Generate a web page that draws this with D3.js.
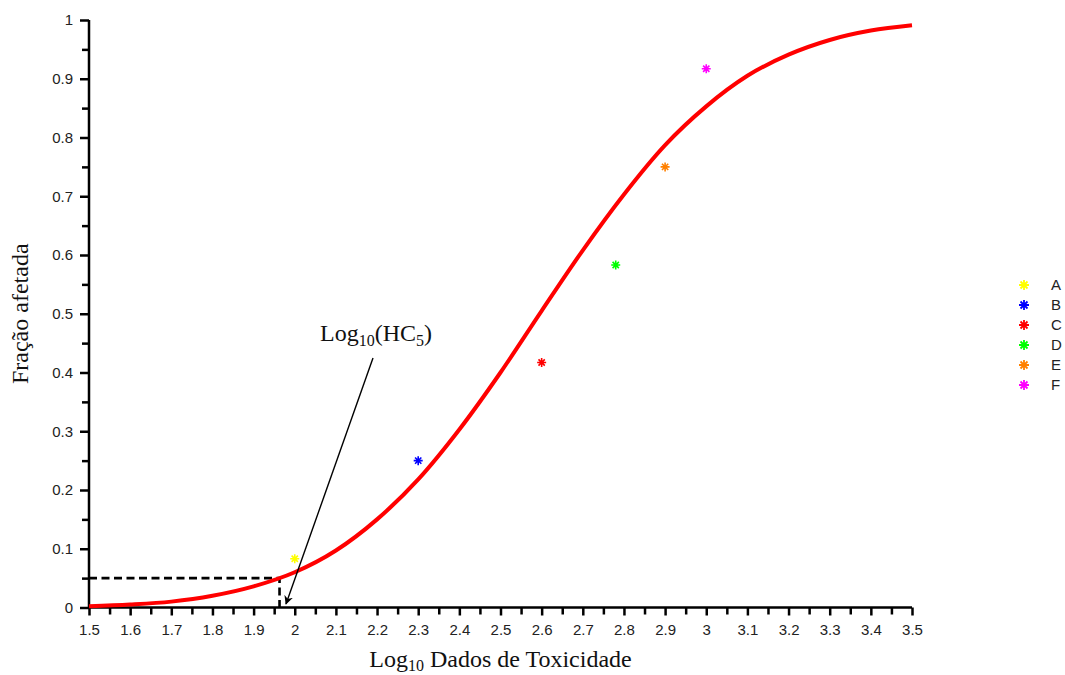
<!DOCTYPE html>
<html>
<head>
<meta charset="utf-8">
<script src="https://cdn.jsdelivr.net/npm/d3@7"></script>
<style>
  body { margin: 0; background: #fff; }
  svg { display: block; }
  .tick text { font-family: "Liberation Sans", Arial, sans-serif; font-size: 15px; fill: #222; }
  .serif { font-family: "Liberation Serif", "Times New Roman", serif; fill: #111; }
</style>
</head>
<body>
<svg id="chart" width="1065" height="675"></svg>
<script>
// fitted curve
let curveX = [1.5, 1.6, 1.7, 1.8, 1.9, 2.0, 2.1, 2.2, 2.3, 2.4, 2.5, 2.6, 2.7, 2.8, 2.9, 3.0, 3.1, 3.2, 3.3, 3.4, 3.5]
let curveY = [0.002, 0.005, 0.010, 0.020, 0.036, 0.060, 0.097, 0.150, 0.218, 0.303, 0.400, 0.505, 0.608, 0.703, 0.787, 0.853, 0.905, 0.941, 0.966, 0.982, 0.991]

// observed points
let species = ['A', 'B', 'C', 'D', 'E', 'F']
let pointX = [2.0, 2.3, 2.6, 2.78, 2.9, 3.0]
let pointY = [0.083, 0.25, 0.417, 0.583, 0.75, 0.917]
let pointColors = ['#ffff00', '#0000ff', '#ff0000', '#00ff00', '#ff8000', '#ff00ff']

// HC5 marker
let hc5X = 1.963
let hc5Y = 0.05

let xTicks = [1.5, 1.6, 1.7, 1.8, 1.9, 2, 2.1, 2.2, 2.3, 2.4, 2.5, 2.6, 2.7, 2.8, 2.9, 3, 3.1, 3.2, 3.3, 3.4, 3.5]
let yTicks = [0, 0.1, 0.2, 0.3, 0.4, 0.5, 0.6, 0.7, 0.8, 0.9, 1]

let svg = d3.select('svg#chart')

let x = d3.scaleLinear().domain([1.5, 3.5]).range([89, 912])
let y = d3.scaleLinear().domain([0, 1]).range([607.5, 20])

let fmt = d => String(+d.toFixed(2))

// minor ticks halfway between the labelled ones
let xMinor = xTicks.slice(0, -1).map(v => +(v + 0.05).toFixed(2))
let yMinor = yTicks.slice(0, -1).map(v => +(v + 0.05).toFixed(2))

// axes
let gx = svg.append('g').attr('transform', `translate(0,${y(0)})`)
gx.call(d3.axisBottom(x).tickValues(xTicks).tickFormat(fmt).tickSize(8).tickPadding(9))
gx.append('g').call(d3.axisBottom(x).tickValues(xMinor).tickFormat('').tickSize(7))
  .select('.domain').remove()

let gy = svg.append('g').attr('transform', `translate(${x(1.5)},0)`)
gy.call(d3.axisLeft(y).tickValues(yTicks).tickFormat(fmt).tickSize(9).tickPadding(7))
gy.append('g').call(d3.axisLeft(y).tickValues(yMinor).tickFormat('').tickSize(7))
  .select('.domain').remove()

svg.selectAll('.domain').attr('stroke', '#000').attr('stroke-width', 2.5)
svg.selectAll('.tick line').attr('stroke', '#000').attr('stroke-width', 2.5)

// domains without end caps
gx.select('.domain').attr('d', `M${x(1.5)},0H${x(3.5)}`)
gy.select('.domain').attr('d', `M0,${y(1)}V${y(0)}`)

// dashed HC5 guide
svg.append('path')
  .attr('d', `M${x(1.5)},${y(hc5Y)}H${x(hc5X)}V${y(0)}`)
  .attr('fill', 'none')
  .attr('stroke', '#000')
  .attr('stroke-width', 2.6)
  .attr('stroke-dasharray', '8,4.5')

// fitted curve
let line = d3.line()
  .x((d, i) => x(curveX[i]))
  .y(d => y(d))
  .curve(d3.curveMonotoneX)

svg.append('path')
  .attr('d', line(curveY))
  .attr('fill', 'none')
  .attr('stroke', '#ff0000')
  .attr('stroke-width', 4)

// asterisk marker
let star = r => `M${-r},0H${r}M0,${-r}V${r}M${-r * 0.7},${-r * 0.7}L${r * 0.7},${r * 0.7}M${-r * 0.7},${r * 0.7}L${r * 0.7},${-r * 0.7}`

svg.append('g').selectAll('path')
  .data(species)
  .enter()
  .append('path')
  .attr('transform', (d, i) => `translate(${x(pointX[i])},${y(pointY[i])})`)
  .attr('d', star(4.5))
  .attr('stroke', (d, i) => pointColors[i])
  .attr('stroke-width', 1.6)
  .attr('fill', 'none')

// legend
let legend = svg.append('g').selectAll('g')
  .data(species)
  .enter()
  .append('g')
  .attr('transform', (d, i) => `translate(1024,${285 + i * 20})`)

legend.append('path')
  .attr('d', star(5))
  .attr('stroke', (d, i) => pointColors[i])
  .attr('stroke-width', 1.8)

legend.append('text')
  .attr('x', 27)
  .attr('dy', '0.36em')
  .attr('font-family', '"Liberation Sans", Arial, sans-serif')
  .attr('font-size', 15)
  .attr('fill', '#222')
  .text(d => d)

// axis titles
let xt = svg.append('text').attr('class', 'serif')
  .attr('x', (x(1.5) + x(3.5)) / 2)
  .attr('y', 667)
  .attr('text-anchor', 'middle')
  .attr('font-size', 24)
xt.append('tspan').text('Log')
xt.append('tspan').attr('font-size', 16).attr('dy', 4).text('10')
xt.append('tspan').attr('dy', -4).text(' Dados de Toxicidade')

svg.append('text').attr('class', 'serif')
  .attr('transform', `translate(28,${y(0.5)}) rotate(-90)`)
  .attr('text-anchor', 'middle')
  .attr('font-size', 24)
  .text('Fração afetada')

// annotation
let ann = svg.append('text').attr('class', 'serif')
  .attr('x', 320)
  .attr('y', 341)
  .attr('font-size', 24)
ann.append('tspan').text('Log')
ann.append('tspan').attr('font-size', 16).attr('dy', 5).text('10')
ann.append('tspan').attr('dy', -5).text('(HC')
ann.append('tspan').attr('font-size', 16).attr('dy', 5).text('5')
ann.append('tspan').attr('dy', -5).text(')')

svg.append('defs').append('marker')
  .attr('id', 'head')
  .attr('viewBox', '0 0 10 10')
  .attr('refX', 9).attr('refY', 5)
  .attr('markerWidth', 9).attr('markerHeight', 9)
  .attr('markerUnits', 'userSpaceOnUse')
  .attr('orient', 'auto')
  .append('path')
  .attr('d', 'M0,0L10,5L0,10L3,5Z')
  .attr('fill', '#000')

svg.append('line')
  .attr('x1', 373).attr('y1', 358)
  .attr('x2', 286).attr('y2', 604)
  .attr('stroke', '#000')
  .attr('stroke-width', 1.4)
  .attr('marker-end', 'url(#head)')
</script>
</body>
</html>
